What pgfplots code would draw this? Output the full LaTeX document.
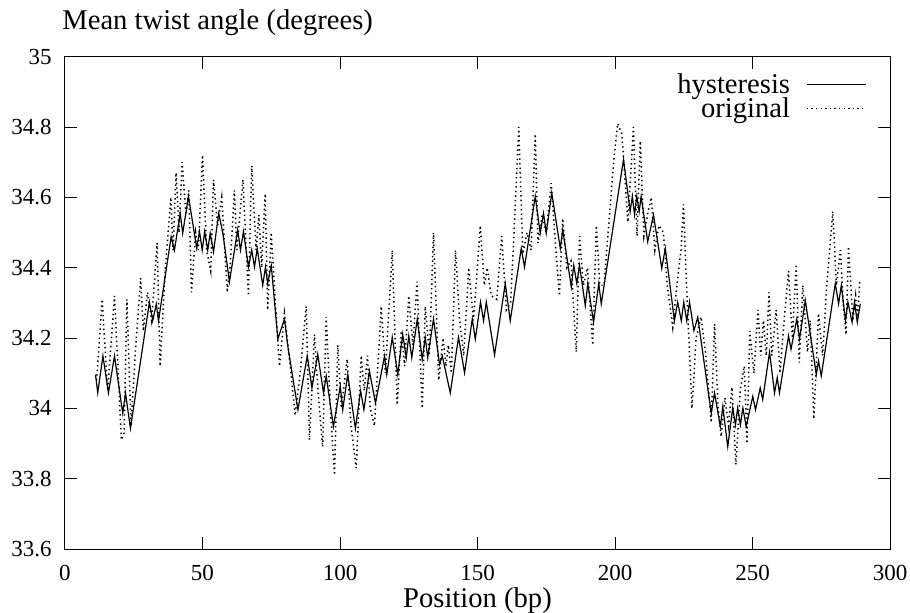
\documentclass[border=0pt]{standalone}
\usepackage{fontspec}
\setmainfont{Liberation Serif}
\usepackage{pgfplots}
\pgfplotsset{compat=1.18}

\begin{document}
\begin{tikzpicture}
\begin{axis}[
  scale only axis,
  width=412.5pt, height=246.15pt,
  xmin=0, xmax=300, ymin=33.6, ymax=35,
  xtick={0,50,100,150,200,250,300},
  xticklabels={0,50,100,150,200,250,300},
  ytick={33.6,33.8,34,34.2,34.4,34.6,34.8,35},
  yticklabels={33.6,33.8,34,34.2,34.4,34.6,34.8,35},
  tick align=inside, major tick length=6pt,
  every tick/.style={black, line width=0.5pt},
  axis line style={black, line width=0.5pt},
  tick label style={font=\fontsize{11.5}{13}\selectfont},
  xticklabel style={inner sep=0pt, yshift=-8pt},
  yticklabel style={inner sep=0pt, xshift=-6.5pt},
  title={Mean twist angle (degrees)},
  title style={at={(0,1)}, anchor=base west, yshift=7.5pt, xshift=-1.5pt,
    inner sep=0pt, font=\fontsize{14.3}{16}\selectfont},
  xlabel={Position (bp)},
  xlabel style={at={(0.5,0)}, anchor=base, yshift=-29pt, inner sep=0pt,
    font=\fontsize{14.3}{16}\selectfont},
  legend plot pos=right,
  legend cell align=right,
  legend image code/.code={\draw[#1] (0pt,1.5pt) -- (29.5pt,1.5pt);},
  legend style={draw=none, fill=none, at={(1,1)}, anchor=north east,
    xshift=-11.5pt, yshift=-9.5pt, inner sep=0pt, row sep=0.5pt,
    font=\fontsize{14.3}{16}\selectfont,
    /tikz/column 1/.style={column sep=3.5pt},
    nodes={inner ysep=0pt, inner xsep=4.5pt, text height=8.5pt, text depth=3pt}},
]
\addplot[black, line width=0.6pt] coordinates {
(11.1,34.096) (11.9,34.044) (13.8,34.149) (15.8,34.044) (18.0,34.149) (21.0,33.986)
(22.0,34.044) (23.8,33.943) (30.7,34.302) (31.9,34.249) (33.2,34.297) (34.0,34.249)
(38.6,34.488) (39.8,34.450) (41.9,34.555) (42.8,34.498) (44.9,34.603) (47.9,34.455)
(48.9,34.503) (49.9,34.450) (50.8,34.503) (51.9,34.450) (52.8,34.498) (54.0,34.445)
(55.9,34.555) (57.4,34.498) (59.8,34.360) (62.8,34.508) (63.8,34.450) (64.9,34.503)
(66.7,34.402) (67.9,34.450) (68.9,34.402) (69.9,34.455) (71.9,34.350) (72.9,34.402)
(73.7,34.355) (75.0,34.407) (77.4,34.197) (79.8,34.254) (81.0,34.178) (84.7,33.996)
(88.1,34.149) (89.8,34.058) (91.9,34.154) (94.0,34.044) (95.0,34.092) (97.6,33.948)
(100.1,34.063) (101.0,33.996) (102.8,34.096) (105.6,33.943) (107.5,34.050) (108.7,33.996)
(110.7,34.106) (112.9,34.015) (116.2,34.149) (117.0,34.096) (119.0,34.202) (121.0,34.096)
(122.8,34.211) (124.1,34.144) (125.0,34.206) (126.1,34.144) (128.1,34.254) (129.9,34.139)
(131.0,34.202) (131.9,34.144) (134.0,34.254) (136.2,34.125) (137.2,34.149) (138.0,34.120)
(140.1,34.044) (143.1,34.202) (145.3,34.101) (148.1,34.254) (149.2,34.197) (151.1,34.302)
(152.2,34.249) (153.2,34.302) (156.2,34.152) (160.1,34.355) (161.9,34.249) (165.9,34.455)
(167.1,34.402) (171.0,34.603) (172.8,34.498) (174.0,34.555) (175.0,34.498) (177.0,34.613)
(180.1,34.455) (181.0,34.508) (184.1,34.345) (185.0,34.407) (186.1,34.355) (187.1,34.407)
(189.2,34.292) (190.1,34.355) (192.2,34.245) (194.1,34.355) (195.0,34.297) (203.1,34.708)
(205.5,34.560) (206.3,34.603) (207.1,34.550) (207.9,34.603) (208.8,34.560) (209.5,34.603)
(211.9,34.474) (214.0,34.550) (217.0,34.398) (218.3,34.455) (221.6,34.249) (222.8,34.302)
(224.1,34.249) (225.0,34.302) (226.1,34.249) (227.1,34.302) (228.7,34.221) (230.1,34.259)
(235.0,33.986) (236.2,34.044) (238.3,33.948) (239.2,34.005) (241.0,33.891) (242.8,34.001)
(243.8,33.953) (244.6,34.001) (245.6,33.953) (246.5,34.001) (247.7,33.948) (250.1,34.034)
(251.1,33.996) (252.8,34.058) (253.7,34.025) (256.2,34.160) (258.0,34.044) (259.0,34.087)
(259.8,34.044) (263.1,34.206) (264.0,34.168) (266.1,34.254) (267.1,34.197) (269.2,34.307)
(273.2,34.096) (274.0,34.135) (275.0,34.092) (280.1,34.355) (281.3,34.297) (282.3,34.350)
(283.8,34.249) (284.7,34.302) (286.2,34.245) (287.1,34.302) (288.1,34.245) (289.2,34.297)
};
\addlegendentry{hysteresis}
\addplot[black, line width=0.75pt, dash pattern=on 0.7pt off 1.6pt] coordinates {
(11.5,34.08) (13.5,34.31) (15.5,34.05) (18.0,34.32) (20.5,33.91) (21.5,33.93)
(22.5,34.31) (24.0,33.95) (25.5,34.15) (27.5,34.37) (28.5,34.22) (30.0,34.33)
(31.5,34.25) (33.5,34.47) (34.6,34.12) (36.5,34.40) (38.5,34.60) (39.3,34.45)
(40.4,34.67) (41.5,34.50) (42.6,34.70) (44.0,34.55) (45.0,34.62) (46.0,34.33)
(47.5,34.50) (48.5,34.45) (50.0,34.72) (51.5,34.45) (53.0,34.39) (54.0,34.65)
(55.5,34.52) (57.0,34.60) (59.0,34.33) (60.0,34.40) (61.6,34.62) (62.5,34.45)
(64.7,34.65) (66.7,34.32) (67.9,34.69) (69.5,34.45) (70.5,34.55) (71.5,34.40)
(72.8,34.61) (73.7,34.28) (75.0,34.50) (76.5,34.30) (78.0,34.12) (79.8,34.27)
(81.5,34.15) (83.7,33.98) (85.5,34.10) (87.7,34.29) (88.9,33.91) (90.7,34.21)
(92.0,34.05) (93.7,33.89) (95.0,34.26) (96.5,34.00) (98.0,33.81) (99.2,34.18)
(100.5,34.00) (102.6,34.14) (104.0,33.95) (105.9,33.83) (107.7,34.15) (108.8,34.05)
(110.0,34.15) (111.0,34.00) (112.5,33.95) (115.0,34.29) (116.5,34.10) (119.0,34.45)
(120.8,34.01) (122.3,34.22) (123.5,34.12) (125.0,34.32) (126.5,34.18) (128.0,34.36)
(129.9,34.00) (131.0,34.29) (132.5,34.15) (134.0,34.50) (135.9,34.08) (137.5,34.20)
(138.5,34.12) (139.4,34.18) (140.5,34.10) (142.0,34.45) (143.5,34.25) (145.0,34.15)
(146.8,34.40) (148.5,34.25) (149.5,34.35) (151.0,34.52) (152.5,34.35) (153.5,34.40)
(155.0,34.32) (157.0,34.31) (158.8,34.49) (160.5,34.28) (162.0,34.30) (163.0,34.45)
(165.0,34.80) (166.5,34.44) (168.0,34.50) (169.5,34.45) (171.0,34.78) (172.0,34.47)
(173.5,34.55) (175.0,34.50) (176.8,34.64) (178.5,34.45) (179.8,34.32) (181.0,34.54)
(182.5,34.40) (184.0,34.42) (185.9,34.16) (187.1,34.49) (188.5,34.35) (190.0,34.40)
(191.9,34.18) (193.2,34.52) (194.5,34.35) (196.0,34.35) (198.0,34.55) (199.5,34.70)
(201.0,34.81) (202.5,34.78) (204.7,34.53) (206.7,34.80) (208.0,34.49) (209.2,34.76)
(210.5,34.49) (211.8,34.55) (213.2,34.60) (214.5,34.45) (216.0,34.52) (217.6,34.50)
(219.0,34.35) (221.0,34.23) (222.5,34.35) (224.0,34.45) (224.9,34.58) (226.0,34.35)
(228.0,34.00) (229.5,34.20) (231.3,34.26) (233.0,34.15) (235.0,33.96) (236.2,34.24)
(237.5,34.00) (238.6,33.92) (240.0,34.03) (241.3,33.95) (242.5,34.06) (244.0,33.84)
(245.5,34.05) (247.0,34.12) (248.0,33.90) (249.0,34.22) (250.5,34.10) (252.0,34.28)
(253.0,34.15) (254.0,34.25) (255.0,34.15) (256.0,34.33) (257.0,34.15) (258.6,34.28)
(260.0,34.10) (261.5,34.25) (263.1,34.39) (264.5,34.20) (265.9,34.41) (267.0,34.13)
(268.3,34.35) (270.0,34.16) (271.0,34.25) (272.3,33.97) (274.0,34.27) (275.5,34.15)
(277.0,34.35) (279.2,34.56) (280.5,34.35) (282.0,34.45) (283.0,34.30) (284.0,34.21)
(284.9,34.46) (286.5,34.25) (287.5,34.32) (288.2,34.26) (289.0,34.36)
};
\addlegendentry{original}
\coordinate (sw) at (rel axis cs:0,0);
\coordinate (ne) at (rel axis cs:1,1);
\end{axis}
\pgfresetboundingbox
\path[use as bounding box] ([shift={(-32.5pt,-31.5pt)}]sw) rectangle ([shift={(10pt,28.35pt)}]ne);
\end{tikzpicture}
\end{document}
